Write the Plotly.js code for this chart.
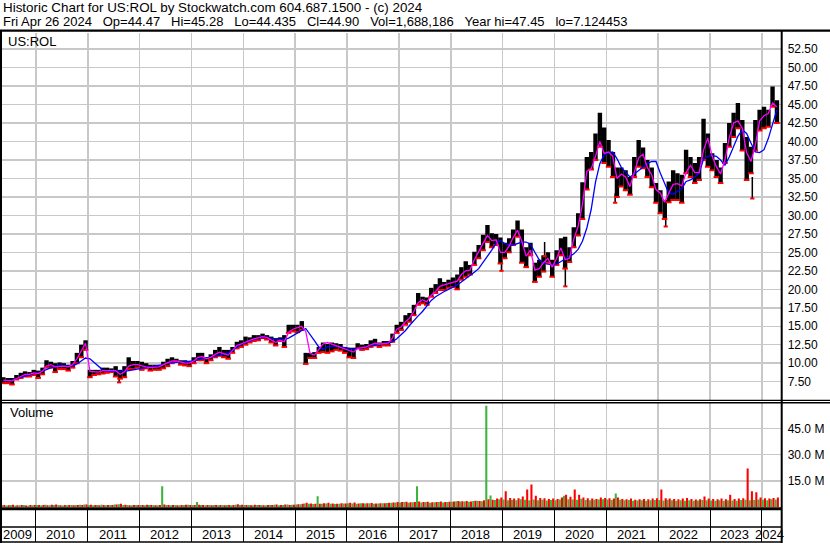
<!DOCTYPE html>
<html><head><meta charset="utf-8">
<script src="https://cdn.plot.ly/plotly-3.0.1.min.js"></script>
<style>html,body{margin:0;padding:0;background:#fff;} #chart{width:830px;height:543px;}</style>
</head><body><div id="chart"></div>
<script>
// ---------- DATA (monthly) ----------
const months = [
'2009-05','2009-06','2009-07','2009-08','2009-09','2009-10','2009-11','2009-12',
'2010-01','2010-02','2010-03','2010-04','2010-05','2010-06','2010-07','2010-08','2010-09','2010-10','2010-11','2010-12',
'2011-01','2011-02','2011-03','2011-04','2011-05','2011-06','2011-07','2011-08','2011-09','2011-10','2011-11','2011-12',
'2012-01','2012-02','2012-03','2012-04','2012-05','2012-06','2012-07','2012-08','2012-09','2012-10','2012-11','2012-12',
'2013-01','2013-02','2013-03','2013-04','2013-05','2013-06','2013-07','2013-08','2013-09','2013-10','2013-11','2013-12',
'2014-01','2014-02','2014-03','2014-04','2014-05','2014-06','2014-07','2014-08','2014-09','2014-10','2014-11','2014-12',
'2015-01','2015-02','2015-03','2015-04','2015-05','2015-06','2015-07','2015-08','2015-09','2015-10','2015-11','2015-12',
'2016-01','2016-02','2016-03','2016-04','2016-05','2016-06','2016-07','2016-08','2016-09','2016-10','2016-11','2016-12',
'2017-01','2017-02','2017-03','2017-04','2017-05','2017-06','2017-07','2017-08','2017-09','2017-10','2017-11','2017-12',
'2018-01','2018-02','2018-03','2018-04','2018-05','2018-06','2018-07','2018-08','2018-09','2018-10','2018-11','2018-12',
'2019-01','2019-02','2019-03','2019-04','2019-05','2019-06','2019-07','2019-08','2019-09','2019-10','2019-11','2019-12',
'2020-01','2020-02','2020-03','2020-04','2020-05','2020-06','2020-07','2020-08','2020-09','2020-10','2020-11','2020-12',
'2021-01','2021-02','2021-03','2021-04','2021-05','2021-06','2021-07','2021-08','2021-09','2021-10','2021-11','2021-12',
'2022-01','2022-02','2022-03','2022-04','2022-05','2022-06','2022-07','2022-08','2022-09','2022-10','2022-11','2022-12',
'2023-01','2023-02','2023-03','2023-04','2023-05','2023-06','2023-07','2023-08','2023-09','2023-10','2023-11','2023-12',
'2024-01','2024-02','2024-03','2024-04'];

const high = [
8.1,8.0,8.0,8.4,8.7,8.9,8.8,9.1,
9.0,9.4,10.4,10.2,10.0,10.1,10.0,9.8,10.3,11.4,12.5,13.1,
9.1,9.1,9.1,9.4,9.4,9.3,9.6,9.1,9.6,10.8,10.3,10.3,
10.2,10.0,9.8,9.8,9.8,10.2,10.6,10.8,10.6,10.4,10.4,10.2,
10.8,11.4,11.4,10.8,11.2,11.8,12.2,11.8,11.8,12.2,12.9,13.1,
13.6,13.5,13.8,13.8,14.0,13.8,13.6,13.4,13.5,13.8,15.2,15.2,
15.2,15.7,11.4,11.4,11.5,12.2,12.8,12.6,12.8,12.7,12.6,12.2,
12.1,12.1,12.7,12.5,12.6,13.1,13.3,12.8,13.0,13.0,14.0,15.2,
15.6,16.5,16.8,17.9,19.5,19.0,18.9,20.2,20.7,21.5,21.0,21.3,
21.6,22.0,23.0,23.8,23.3,25.1,26.0,27.4,28.7,27.6,27.5,27.0,
26.3,26.9,28.1,29.3,28.1,25.7,26.3,23.6,24.0,24.6,25.0,24.0,
25.3,26.9,27.1,25.7,28.4,30.3,34.5,37.9,38.6,41.1,43.9,41.9,
40.2,38.6,36.5,36.5,36.1,35.2,37.9,40.2,39.2,37.5,36.5,34.4,
33.4,32.1,34.6,36.1,35.7,35.5,38.9,37.9,37.1,37.9,43.1,41.1,
38.4,37.5,36.5,39.8,42.5,43.9,45.2,42.9,40.6,39.3,42.9,44.3,
44.7,44.3,47.45,45.6];

const low = [
7.3,7.3,7.12,7.8,8.0,8.2,8.2,8.4,
8.0,8.5,9.4,9.4,8.8,9.2,9.2,9.0,9.4,10.0,10.8,11.8,
8.1,8.4,8.5,8.6,8.7,8.8,8.2,7.9,8.1,9.2,9.2,9.4,
9.1,9.3,9.0,9.1,9.1,9.3,9.6,10.0,10.2,9.8,9.7,9.6,
10.0,10.4,10.4,10.0,10.4,10.8,11.0,10.8,10.6,11.4,12.0,12.2,
12.5,12.8,13.0,13.1,13.4,13.2,12.8,12.4,13.0,12.2,14.1,14.3,
14.2,14.5,9.9,10.7,10.7,11.4,11.5,11.4,11.6,11.8,11.7,11.4,
10.8,10.7,12.0,11.8,11.9,12.2,12.4,12.2,12.4,12.4,12.9,14.1,
14.5,15.2,15.6,16.5,17.9,18.1,17.9,19.0,19.5,19.9,19.9,20.2,
20.3,20.0,21.3,21.7,22.0,23.3,24.2,25.3,26.4,25.7,26.0,23.5,
24.2,25.0,26.0,27.1,23.6,23.0,24.6,21.0,21.7,22.4,23.6,21.7,
23.3,24.6,22.8,23.7,25.7,27.3,29.5,33.5,36.2,37.5,39.3,37.1,
36.6,35.2,32.5,33.9,33.4,32.8,35.2,36.6,36.4,35.2,33.8,31.7,
30.3,29.5,31.8,32.1,32.1,31.7,35.7,35.2,34.4,34.8,37.5,36.6,
36.1,35.2,34.4,37.1,39.3,40.6,41.8,38.8,34.8,35.7,38.8,41.5,
41.8,42.0,44.7,42.5];

// short moving average (magenta)
const maFast = [
7.7,7.6,7.6,7.9,8.2,8.5,8.5,8.7,
8.6,8.9,9.6,9.8,9.5,9.6,9.6,9.5,9.8,10.6,11.6,12.7,
8.9,8.8,8.8,9.0,9.0,8.9,9.0,8.5,8.8,9.6,9.8,9.8,
9.6,9.5,9.4,9.4,9.5,9.8,10.1,10.3,10.3,10.1,10.0,10.0,
10.3,10.8,10.9,10.6,10.8,11.2,11.5,11.3,11.1,11.7,12.4,12.6,
12.9,13.1,13.3,13.4,13.6,13.5,13.1,12.8,13.1,12.9,14.2,14.6,
14.8,15.0,14.3,11.3,11.1,11.9,12.6,12.8,12.6,12.3,12.2,12.0,
11.8,11.5,12.0,12.1,12.2,12.5,12.7,12.6,12.6,12.7,13.4,14.6,
14.9,15.6,16.1,17.0,18.2,18.6,18.3,19.2,19.7,20.4,20.6,20.8,
21.0,21.1,22.0,22.5,22.6,24.0,25.1,26.2,27.3,26.6,26.7,25.0,
25.0,25.8,27.0,28.0,26.5,24.5,25.3,22.6,22.8,23.6,24.2,23.0,
24.2,25.6,24.0,24.2,26.8,28.5,31.5,36.0,36.3,38.0,40.0,38.4,
38.6,38.0,35.0,35.6,35.2,33.9,35.8,37.8,38.3,36.5,35.5,33.5,
33.0,31.8,33.0,34.2,34.3,34.0,35.8,36.8,35.8,35.8,38.8,40.5,
38.0,36.6,35.6,37.5,40.5,42.5,42.8,41.8,38.5,37.3,39.5,42.8,
43.5,43.8,45.2,44.7];

// long moving average (blue)
const maSlow = [
7.6,7.6,7.7,7.9,8.1,8.3,8.4,8.6,
8.7,8.9,9.2,9.4,9.6,9.7,9.7,9.7,9.6,9.9,10.3,10.7,
10.6,10.1,9.6,9.1,8.9,8.9,8.8,8.8,8.9,9.0,9.1,9.1,
9.2,9.4,9.5,9.5,9.6,9.8,10.0,10.1,10.2,10.2,10.2,10.2,
10.3,10.5,10.6,10.7,10.8,11.0,11.1,11.2,11.4,11.8,12.2,12.5,
12.8,13.0,13.2,13.4,13.5,13.5,13.4,13.3,13.2,13.2,13.4,13.7,
14.05,14.4,14.7,13.8,13.05,12.2,11.9,12.2,12.3,12.3,12.2,12.1,
12.0,11.9,12.0,12.0,12.2,12.3,12.5,12.6,12.6,12.7,12.9,13.3,
13.8,14.4,15.1,15.8,16.4,17.0,17.8,18.5,19.0,19.4,19.7,20.0,
20.3,20.6,21.0,21.4,21.8,22.3,22.8,23.6,24.4,25.3,26.2,26.6,
26.2,26.0,26.0,26.2,26.4,26.4,26.1,25.0,24.0,23.5,23.4,23.3,
23.4,23.8,24.1,24.4,24.8,25.4,26.5,28.3,30.8,34.5,37.0,38.2,
38.5,38.6,37.7,36.5,35.9,35.2,35.6,36.1,36.5,37.0,37.3,37.3,
35.7,34.3,33.0,32.9,33.2,33.6,34.6,34.8,35.2,35.7,37.6,38.0,
38.1,38.0,37.5,36.8,37.9,39.4,40.7,41.6,41.1,39.8,38.6,38.5,
38.9,40.4,42.2,44.3];

// single-day spikes that stick out of the monthly ranges
const spikeDates = ['2011-08-10','2018-12-24','2019-10-24','2020-03-18','2021-03-04','2022-02-23','2023-10-26'];
const spikeLow   = [7.4, 22.5, 24.5, 20.4, 31.7, 28.5, 32.3];
const spikeHigh  = [8.3, 24.0, 26.4, 23.0, 33.0, 29.8, 35.2];

// volume in millions (green = up days, red = down days)
const volUp = [
1.0,0.9,1.1,0.8,1.0,1.2,0.9,1.0,
1.1,1.0,1.3,1.0,1.2,1.1,0.9,1.0,1.1,1.2,1.3,1.4,
1.2,1.0,1.1,1.3,1.0,1.1,1.4,1.6,1.2,1.1,1.0,1.2,
1.1,1.0,1.2,1.1,1.0,11.9,1.2,1.0,1.1,1.0,1.2,1.3,
1.2,2.8,1.1,1.0,1.2,1.1,1.0,1.2,1.1,1.0,1.3,1.2,
1.1,1.2,1.0,1.1,1.2,1.0,1.1,1.3,1.0,1.2,1.4,1.3,
1.5,1.6,2.0,1.8,1.7,6.2,1.8,2.0,1.9,1.7,1.8,2.0,
2.2,2.0,1.9,2.1,2.0,2.2,1.9,2.0,2.1,2.3,2.4,2.6,
2.6,2.8,2.5,2.7,11.9,2.6,2.8,2.5,2.7,2.9,2.6,2.8,
3.0,3.3,3.1,3.2,3.0,3.4,3.6,3.3,58.0,6.6,4.0,4.5,
4.3,3.8,4.0,3.9,4.5,4.1,3.9,4.3,3.8,4.1,3.7,4.0,
3.9,4.3,6.5,4.5,4.3,4.1,4.7,4.0,3.8,4.1,4.3,4.5,
4.3,4.0,7.7,4.1,3.8,4.0,3.6,3.7,3.9,3.6,3.8,4.0,
4.0,3.7,4.1,3.8,3.6,3.9,3.6,3.8,3.6,3.7,4.0,3.8,
3.7,3.6,3.8,3.6,3.9,3.7,3.6,4.0,4.1,3.8,4.0,4.3,
4.1,3.9,4.5,4.3];

const volDown = [
1.2,1.0,1.3,1.0,1.1,0.9,1.2,1.1,
1.2,1.1,1.0,1.3,1.4,1.0,1.1,1.2,1.0,1.1,1.2,1.5,
1.3,1.1,1.0,1.2,1.1,1.2,1.5,1.8,1.3,1.0,1.2,1.1,
1.2,1.3,1.1,1.0,1.2,1.4,1.1,1.2,1.0,1.1,1.3,1.2,
1.1,1.3,1.2,1.1,1.0,1.2,1.1,1.0,1.2,1.1,1.6,1.3,
1.2,1.0,1.3,1.1,1.0,1.2,1.1,1.5,1.2,1.4,1.2,1.3,
1.6,1.8,2.4,2.0,1.8,1.9,2.2,2.4,2.0,1.9,2.1,2.0,
2.4,2.6,2.0,2.2,2.1,2.3,2.0,2.2,2.1,2.4,2.6,2.8,
2.8,3.0,2.7,2.9,3.2,2.8,3.0,2.7,2.9,3.1,2.8,3.0,
3.2,3.5,3.3,3.4,3.2,3.6,3.4,3.8,4.5,4.2,4.8,5.5,
9.0,5.2,4.8,5.0,6.0,10.0,12.9,6.5,5.2,5.0,4.6,4.8,
4.6,5.5,7.0,5.8,10.0,7.0,5.5,5.0,4.8,4.6,5.5,5.2,
5.0,4.8,5.5,4.6,4.4,4.8,4.2,4.5,4.6,4.4,4.8,5.0,
10.0,5.0,4.8,4.6,4.4,4.8,5.2,4.6,4.3,4.5,6.0,4.8,
4.6,4.4,4.8,4.5,7.0,4.6,4.8,5.0,22.0,9.0,8.5,5.5,
5.0,4.8,5.2,5.5];

// axes / labels
const gridDates = ['2010-01-01','2011-01-01','2012-01-01','2013-01-01','2014-01-01','2015-01-01','2016-01-01','2017-01-01',
  '2018-01-01','2019-01-01','2020-01-01','2021-01-01','2022-01-01','2023-01-01','2024-01-01'];
const priceTicks = [7.5,10,12.5,15,17.5,20,22.5,25,27.5,30,32.5,35,37.5,40,42.5,45,47.5,50,52.5];
const volTicks = [15,30,45];
const volTickText = ['15.0 M','30.0 M','45.0 M'];
const yearLabels = ['2009','2010','2011','2012','2013','2014','2015','2016','2017','2018','2019','2020','2021','2022','2023','2024'];
const yearLabelDates = ['2009-08-21','2010-06-26','2011-06-26','2012-06-26','2013-06-26','2014-06-26','2015-06-26','2016-06-26',
  '2017-06-26','2018-06-26','2019-06-26','2020-06-26','2021-06-26','2022-06-26','2023-06-26','2024-02-26'];
const header1 = 'Historic Chart for US:ROL by Stockwatch.com 604.687.1500 - (c) 2024';
const header2Fields = ['Fri Apr 26 2024','Op=44.47','Hi=45.28','Lo=44.435','Cl=44.90','Vol=1,688,186','Year hi=47.45','lo=7.124453'];

// ---------- CHART ----------
const W = 830, H = 543;
const px = v => v / W;
const py = v => 1 - v / H;
const FONT = 'Liberation Sans, Arial, sans-serif';
const DAY = 86400000;
const GRID = '#c8c8c8';
const xRange = ['2009-05-07', '2024-05-13'];
const xDom = [px(2), px(780.7)];

const spikeX = [], spikeY = [];
spikeDates.forEach((d, i) => { spikeX.push(d, d, null); spikeY.push(spikeLow[i], spikeHigh[i], null); });

const traces = [
  {type:'bar', x: months, y: volUp, xaxis:'x2', yaxis:'y2', offset: 0, width: 14.5*DAY,
   marker:{color:'#3cb43c'}},
  {type:'bar', x: months, y: volDown, xaxis:'x2', yaxis:'y2', offset: 15*DAY, width: 14.5*DAY,
   marker:{color:'#ff0000'}},
  {type:'bar', x: months, base: low, y: high.map((h, i) => h - low[i]), offset: 0, width: 31*DAY,
   marker:{color:'#000000'}},
  {type:'scatter', mode:'lines', x: spikeX, y: spikeY, line:{color:'#000', width:1.5}},
  {type:'scatter', mode:'markers', x: months, y: low, xperiod:'M1', xperiodalignment:'middle',
   marker:{symbol:'line-ew', size:4, line:{color:'#ff0000', width:2}}},
  {type:'scatter', mode:'markers', x: spikeDates, y: spikeLow,
   marker:{symbol:'line-ew', size:3, line:{color:'#ff0000', width:2}}},
  {type:'scatter', mode:'lines', x: months, y: maSlow, xperiod:'M1', xperiodalignment:'middle',
   line:{color:'#0000ff', width:1.3}},
  {type:'scatter', mode:'lines', x: months, y: maFast, xperiod:'M1', xperiodalignment:'middle',
   line:{color:'#ff00ff', width:1.3}}
];

function hline(y, x0, x1, w) {
  return {type:'line', xref:'paper', yref:'paper', x0: px(x0), x1: px(x1), y0: py(y), y1: py(y),
          line:{color:'#000', width:w}, layer:'above'};
}
function vline(x, y0, y1, w) {
  return {type:'line', xref:'paper', yref:'paper', x0: px(x), x1: px(x), y0: py(y0), y1: py(y1),
          line:{color:'#000', width:w}, layer:'above'};
}
const shapes = [
  hline(30.6, 0, 830, 2.2),
  hline(400.4, 0, 830, 1.4),
  hline(402.8, 0, 830, 1.4),
  hline(508.7, 0, 781.7, 3),
  hline(527, 0, 781.7, 1.5),
  hline(542, 0, 781.7, 1.5),
  vline(1, 30, 543, 2),
  vline(781.7, 30, 543, 2)
];

const annotations = [
  {xref:'paper', yref:'paper', x: px(1), y: py(8), xanchor:'left', yanchor:'middle', showarrow:false,
   text: header1, font:{family:FONT, size:13.4, color:'#000'}},
  {xref:'paper', yref:'paper', x: px(1), y: py(21.5), xanchor:'left', yanchor:'middle', showarrow:false,
   text: header2Fields.join('\u00a0\u00a0\u00a0'), font:{family:FONT, size:13, color:'#000'}},
  {xref:'paper', yref:'paper', x: px(6), y: py(41.5), xanchor:'left', yanchor:'middle', showarrow:false,
   text:'US:ROL', font:{family:FONT, size:13, color:'#000'}},
  {xref:'paper', yref:'paper', x: px(7.5), y: py(413), xanchor:'left', yanchor:'middle', showarrow:false,
   text:'Volume', font:{family:FONT, size:13, color:'#000'}}
];
yearLabels.forEach((t, i) => annotations.push({
  xref:'x2', yref:'paper', x: yearLabelDates[i], y: py(534.5), xanchor:'center', yanchor:'middle',
  showarrow:false, text:t, font:{family:FONT, size:13, color:'#000'}
}));

const layout = {
  width: W, height: H, margin:{l:0, r:0, t:0, b:0, pad:0},
  paper_bgcolor:'#ffffff', plot_bgcolor:'#ffffff',
  showlegend:false, barmode:'overlay', hovermode:false,
  font:{family:FONT, size:12, color:'#000'},
  xaxis:{domain:xDom, range:xRange, type:'date', anchor:'y', tickmode:'array', tickvals:gridDates,
         showticklabels:false, ticks:'', showgrid:true, gridcolor:GRID, gridwidth:1.5,
         zeroline:false, showline:false, fixedrange:true},
  yaxis:{domain:[py(400), py(33)], range:[5.02, 54.69], anchor:'x', side:'right',
         tickmode:'array', tickvals:priceTicks, tickformat:'.2f', ticks:'', ticklabelstandoff:6,
         showgrid:true, gridcolor:GRID, gridwidth:1.5, zeroline:false, showline:false,
         tickfont:{family:FONT, size:12, color:'#000'}, fixedrange:true},
  xaxis2:{domain:xDom, range:xRange, type:'date', anchor:'y2', tickmode:'array', tickvals:gridDates,
          showticklabels:false, ticks:'outside', ticklen:33, tickwidth:1, tickcolor:'#000',
          showgrid:true, gridcolor:GRID, gridwidth:1.5, zeroline:false, showline:false, fixedrange:true},
  yaxis2:{domain:[py(508), py(403)], range:[-0.57, 59.54], anchor:'x2', side:'right',
          tickmode:'array', tickvals:volTicks, ticktext:volTickText, ticks:'', ticklabelstandoff:6,
          showgrid:true, gridcolor:GRID, gridwidth:1.5, zeroline:false, showline:false,
          tickfont:{family:FONT, size:12, color:'#000'}, fixedrange:true},
  shapes: shapes,
  annotations: annotations
};

Plotly.newPlot('chart', traces, layout, {staticPlot:true, displayModeBar:false});
</script>
</body></html>
